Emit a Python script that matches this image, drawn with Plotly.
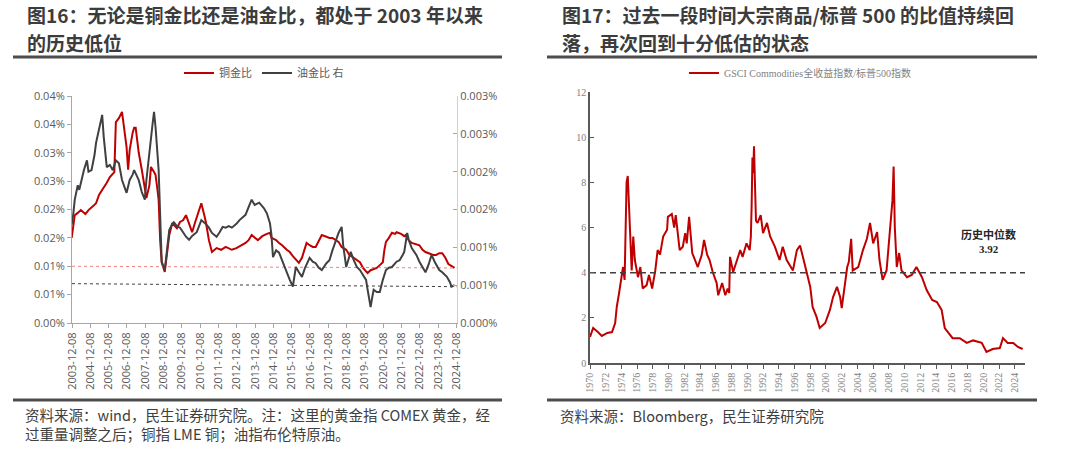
import plotly.graph_objects as go

# ---------------- Left chart: copper/gold & oil/gold ----------------
cg_dates = ["2003-12","2004-01","2004-02","2004-04","2004-06","2004-09","2004-11","2005-02","2005-04","2005-06",
            "2005-09","2005-11","2006-01","2006-04","2006-05","2006-07","2006-09","2006-10","2006-12","2007-01",
            "2007-02","2007-04","2007-05","2007-06","2007-08","2007-10","2007-12","2008-01","2008-03","2008-04",
            "2008-06","2008-07","2008-08","2008-09","2008-10","2008-11","2009-01","2009-02","2009-04","2009-06",
            "2009-09","2009-11","2010-01","2010-03","2010-05","2010-07","2010-09","2010-11","2011-01","2011-03",
            "2011-04","2011-06","2011-08","2011-11","2012-02","2012-05","2012-09","2012-12","2013-03","2013-06",
            "2013-08","2013-10","2014-02","2014-05","2014-08","2014-10","2014-11","2015-02","2015-04","2015-06",
            "2015-09","2015-11","2016-01","2016-03","2016-05","2016-07","2016-10","2016-12","2017-02","2017-04",
            "2017-06","2017-08","2017-11","2018-01","2018-03","2018-05","2018-07","2018-09","2018-12","2019-02",
            "2019-04","2019-07","2019-09","2019-11","2020-02","2020-04","2020-08","2020-10","2020-12","2021-01",
            "2021-02","2021-04","2021-06","2021-08","2021-09","2021-12","2022-02","2022-03","2022-05","2022-07",
            "2022-09","2022-12","2023-02","2023-04","2023-07","2023-09","2023-11","2024-01","2024-03","2024-05",
            "2024-07","2024-09","2024-11"]
cg_vals = [0.0150,0.0173,0.0190,0.0194,0.0199,0.0192,0.0199,0.0206,0.0211,0.0226,
           0.0238,0.0247,0.0257,0.0266,0.0354,0.0361,0.0372,0.0349,0.0310,0.0270,
           0.0305,0.0335,0.0344,0.0344,0.0300,0.0270,0.0240,0.0220,0.0243,0.0275,
           0.0266,0.0261,0.0240,0.0217,0.0146,0.0107,0.0090,0.0115,0.0155,0.0176,
           0.0167,0.0178,0.0181,0.0190,0.0173,0.0160,0.0178,0.0196,0.0211,0.0190,
           0.0178,0.0146,0.0125,0.0132,0.0129,0.0134,0.0129,0.0132,0.0137,0.0141,
           0.0146,0.0155,0.0146,0.0153,0.0157,0.0159,0.0150,0.0146,0.0141,0.0137,
           0.0129,0.0125,0.0118,0.0111,0.0106,0.0115,0.0141,0.0137,0.0134,0.0134,
           0.0146,0.0155,0.0152,0.0150,0.0150,0.0146,0.0143,0.0134,0.0129,0.0120,
           0.0116,0.0111,0.0107,0.0097,0.0088,0.0093,0.0097,0.0102,0.0107,0.0129,
           0.0143,0.0150,0.0159,0.0157,0.0160,0.0157,0.0153,0.0155,0.0146,0.0141,
           0.0139,0.0137,0.0129,0.0125,0.0122,0.0120,0.0120,0.0123,0.0123,0.0115,
           0.0104,0.0100,0.0097]

og_dates = ["2003-12","2004-01","2004-02","2004-04","2004-05","2004-06","2004-08","2004-10","2004-11","2005-01",
            "2005-03","2005-04","2005-06","2005-08","2005-09","2005-11","2006-01","2006-03","2006-05","2006-07",
            "2006-09","2006-12","2007-02","2007-04","2007-05","2007-07","2007-08","2007-10","2007-12","2008-01",
            "2008-03","2008-05","2008-06","2008-07","2008-09","2008-10","2008-11","2009-01","2009-02","2009-04",
            "2009-06","2009-07","2009-09","2009-11","2010-01","2010-03","2010-05","2010-07","2010-10","2010-12",
            "2011-01","2011-04","2011-06","2011-08","2011-11","2012-01","2012-03","2012-05","2012-07","2012-09",
            "2012-12","2013-02","2013-04","2013-06","2013-08","2013-10","2013-12","2014-03","2014-06","2014-08",
            "2014-10","2014-11","2014-12","2015-02","2015-04","2015-07","2015-09","2015-11","2016-01","2016-02",
            "2016-03","2016-05","2016-07","2016-09","2016-12","2017-02","2017-04","2017-06","2017-08","2017-11",
            "2018-01","2018-03","2018-05","2018-07","2018-09","2018-10","2018-12","2019-02","2019-03","2019-05",
            "2019-07","2019-09","2019-10","2020-01","2020-02","2020-03","2020-04","2020-05","2020-06","2020-08",
            "2020-10","2020-12","2021-02","2021-04","2021-06","2021-09","2021-11","2022-01","2022-02","2022-04",
            "2022-05","2022-07","2022-10","2022-12","2023-02","2023-04","2023-06","2023-08","2023-10","2024-01",
            "2024-03","2024-06","2024-08","2024-09","2024-11"]
og_vals = [0.00130,0.00143,0.00163,0.00182,0.00176,0.00185,0.00202,0.00215,0.00200,0.00202,
           0.00222,0.00238,0.00259,0.00275,0.00246,0.00206,0.00209,0.00202,0.00215,0.00211,
           0.00189,0.00172,0.00189,0.00196,0.00202,0.00192,0.00189,0.00173,0.00163,0.00189,
           0.00229,0.00262,0.00279,0.00259,0.00202,0.00136,0.00081,0.00070,0.00090,0.00123,
           0.00131,0.00133,0.00128,0.00126,0.00120,0.00114,0.00110,0.00115,0.00120,0.00130,
           0.00136,0.00131,0.00126,0.00119,0.00114,0.00120,0.00127,0.00126,0.00128,0.00126,
           0.00131,0.00136,0.00140,0.00143,0.00153,0.00163,0.00156,0.00159,0.00152,0.00145,
           0.00132,0.00116,0.00087,0.00096,0.00093,0.00077,0.00066,0.00057,0.00048,0.00063,
           0.00074,0.00067,0.00061,0.00073,0.00086,0.00081,0.00079,0.00073,0.00070,0.00079,
           0.00083,0.00096,0.00107,0.00119,0.00127,0.00103,0.00074,0.00090,0.00094,0.00083,
           0.00074,0.00070,0.00067,0.00057,0.00044,0.00030,0.00021,0.00033,0.00044,0.00041,
           0.00041,0.00057,0.00070,0.00073,0.00074,0.00081,0.00083,0.00090,0.00094,0.00119,
           0.00110,0.00099,0.00090,0.00081,0.00073,0.00067,0.00077,0.00090,0.00081,0.00070,
           0.00067,0.00061,0.00054,0.00048,0.00050]

ref_dates = ["2003-12-08", "2024-12-08"]
cg_ref_vals = [0.0100, 0.0097]
og_ref_vals = [0.00052, 0.00048]

left_x_ticks = ["%d-12-08" % y for y in range(2003, 2025)]
left_y_ticks = [0, 0.005, 0.010, 0.015, 0.020, 0.025, 0.030, 0.035, 0.040]
left_y_text = ["0.00%", "0.01%", "0.01%", "0.02%", "0.02%", "0.03%", "0.03%", "0.04%", "0.04%"]
right_y_ticks = [0, 0.0005, 0.0010, 0.0015, 0.0020, 0.0025, 0.0030]
right_y_text = ["0.000%", "0.001%", "0.001%", "0.002%", "0.002%", "0.003%", "0.003%"]

# ---------------- Right chart: GSCI / S&P500 ----------------
gsci_years = [1970.0,1970.4,1971.0,1971.5,1972.2,1972.8,1973.2,1973.4,1973.7,1973.9,
              1974.2,1974.4,1974.5,1974.65,1974.8,1974.95,1975.1,1975.3,1975.5,1975.7,
              1976.1,1976.4,1976.7,1977.2,1977.5,1977.9,1978.3,1978.6,1978.9,1979.3,
              1979.8,1979.9,1980.4,1980.7,1980.9,1981.2,1981.4,1981.8,1982.1,1982.3,
              1982.6,1983.0,1983.3,1983.7,1984.2,1984.5,1984.9,1985.2,1985.6,1986.1,
              1986.3,1986.8,1987.2,1987.5,1987.7,1987.8,1988.2,1988.7,1989.1,1989.4,
              1989.9,1990.3,1990.45,1990.55,1990.65,1990.75,1990.85,1990.95,1991.1,1991.3,
              1991.7,1992.0,1992.5,1992.9,1993.5,1994.1,1994.5,1995.0,1995.8,1996.3,
              1996.7,1997.1,1997.6,1998.0,1998.3,1998.8,1999.2,1999.9,2000.5,2000.9,
              2001.4,2001.8,2002.0,2002.7,2002.9,2003.2,2003.4,2004.1,2004.7,2005.2,
              2005.6,2006.0,2006.5,2006.8,2007.2,2007.7,2008.1,2008.45,2008.6,2008.75,
              2009.0,2009.3,2009.6,2010.3,2010.9,2011.5,2012.2,2012.8,2013.5,2014.1,
              2014.7,2015.1,2015.5,2016.1,2017.0,2017.9,2018.7,2019.8,2020.4,2021.2,
              2022.1,2022.5,2023.1,2023.8,2024.4,2025.0]
gsci_vals = [1.15,1.55,1.37,1.20,1.33,1.37,1.77,2.48,3.10,3.54,
             4.25,3.68,5.00,8.00,8.28,7.00,5.00,4.10,5.60,4.56,
             3.80,4.25,3.30,3.45,3.90,3.30,4.10,5.00,4.80,5.60,
             5.90,6.47,6.60,6.00,6.55,5.75,5.00,5.15,5.75,5.30,
             6.47,4.87,4.56,4.25,4.78,5.45,4.78,4.56,4.03,3.54,
             3.00,3.54,3.00,3.30,3.10,4.70,4.03,4.56,5.00,4.70,
             5.30,5.00,5.60,7.00,9.10,8.40,9.60,8.20,6.30,6.20,
             6.55,5.75,6.20,5.60,5.15,4.56,5.15,4.56,4.10,5.00,
             5.20,4.65,4.00,3.37,2.48,2.04,1.55,1.77,2.35,2.92,
             3.37,2.92,2.43,4.25,4.47,5.50,4.10,4.25,5.00,5.50,
             6.20,5.30,5.80,4.56,3.68,4.10,5.75,7.20,8.70,6.00,
             4.25,4.87,4.10,3.80,3.90,4.25,3.80,3.23,2.79,2.70,
             2.35,1.55,1.37,1.10,1.10,0.89,1.00,0.89,0.49,0.62,
             0.66,1.10,0.89,0.89,0.71,0.62]
median_x = [1970, 2025.3]
median_line = [4.0, 4.0]
median_label = "历史中位数<br>3.92"
year_ticks = list(range(1970, 2025, 2))

# ---------------- Figure ----------------
W, H = 1080, 453
def px(x): return x / W
def py(y): return 1 - y / H

fig = go.Figure()
fig.add_trace(go.Scatter(x=cg_dates, y=cg_vals, name="铜金比", mode="lines",
                         line=dict(color="#C00000", width=2), xaxis="x", yaxis="y", legend="legend"))
fig.add_trace(go.Scatter(x=og_dates, y=og_vals, name="油金比 右", mode="lines",
                         line=dict(color="#404040", width=2), xaxis="x", yaxis="y2", legend="legend"))
fig.add_trace(go.Scatter(x=ref_dates, y=cg_ref_vals, mode="lines", showlegend=False,
                         line=dict(color="#F08080", width=1, dash="dot"), xaxis="x", yaxis="y"))
fig.add_trace(go.Scatter(x=ref_dates, y=og_ref_vals, mode="lines", showlegend=False,
                         line=dict(color="#404040", width=1, dash="dot"), xaxis="x", yaxis="y2"))

fig.add_trace(go.Scatter(x=gsci_years, y=gsci_vals, name="GSCI Commodities全收益指数/标普500指数",
                         mode="lines", line=dict(color="#C00000", width=2),
                         xaxis="x2", yaxis="y3", legend="legend2"))
fig.add_trace(go.Scatter(x=median_x, y=median_line, mode="lines", showlegend=False,
                         line=dict(color="#404040", width=1.5, dash="6px,4px"),
                         xaxis="x2", yaxis="y3"))

left_font = dict(family="Open Sans, Noto Sans CJK SC", size=11, color="#595959")
serif_font = dict(family="Liberation Serif, Noto Sans CJK SC", size=10, color="#7F7F7F")

fig.update_layout(
    width=W, height=H, autosize=False,
    margin=dict(l=0, r=0, t=0, b=0, autoexpand=False),
    paper_bgcolor="white", plot_bgcolor="white",
    xaxis=dict(domain=[px(72), px(457)], anchor="y", type="date",
               range=["2003-12-08", "2024-12-20"],
               tickvals=left_x_ticks, ticktext=left_x_ticks, tickangle=-90,
               ticks="outside", ticklen=4, tickcolor="#A6A6A6",
               showline=True, linecolor="#A6A6A6", linewidth=1,
               showgrid=False, zeroline=False, tickfont=left_font),
    yaxis=dict(domain=[py(323), py(96)], anchor="x", range=[0, 0.04],
               tickvals=left_y_ticks, ticktext=left_y_text,
               ticks="outside", ticklen=4, tickcolor="#A6A6A6",
               showline=True, linecolor="#A6A6A6", linewidth=1,
               showgrid=False, zeroline=False, tickfont=left_font),
    yaxis2=dict(overlaying="y", anchor="x", side="right", range=[0, 0.003],
                tickvals=right_y_ticks, ticktext=right_y_text,
                ticks="inside", ticklen=4, tickcolor="#A6A6A6",
                showline=True, linecolor="#D0D0D0", linewidth=1,
                showgrid=False, zeroline=False, tickfont=left_font),
    xaxis2=dict(domain=[px(590), px(1025)], anchor="y3", range=[1970, 2025.3],
                tickvals=year_ticks, ticktext=[str(y) for y in year_ticks], tickangle=-90,
                ticks="outside", ticklen=4, tickcolor="#595959",
                showline=True, linecolor="#595959", linewidth=1.5,
                showgrid=False, zeroline=False, tickfont=serif_font),
    yaxis3=dict(domain=[py(363), py(92)], anchor="x2", range=[0, 12],
                tickvals=[0, 2, 4, 6, 8, 10, 12],
                ticks="inside", ticklen=4, tickcolor="#595959",
                showline=True, linecolor="#595959", linewidth=1.5,
                showgrid=False, zeroline=False, tickfont=serif_font),
    legend=dict(x=px(264), y=py(73), xanchor="center", yanchor="middle", orientation="h",
                font=dict(family="Noto Sans CJK SC", size=11, color="#595959"),
                bgcolor="rgba(0,0,0,0)"),
    legend2=dict(x=px(800), y=py(73), xanchor="center", yanchor="middle", orientation="h",
                 font=dict(family="Liberation Serif, Noto Sans CJK SC", size=10, color="#7F7F7F"),
                 bgcolor="rgba(0,0,0,0)"),
    showlegend=True,
)

title_font = dict(family="Noto Sans CJK SC", size=19, color="#3C3C3C")
src_font = dict(family="Noto Sans CJK SC", size=14.5, color="#404040")
annots = [
    (25, 14.5, "<b>图16：无论是铜金比还是油金比，都处于 2003 年以来</b>", title_font),
    (25, 42, "<b>的历史低位</b>", title_font),
    (560, 14.5, "<b>图17：过去一段时间大宗商品/标普 500 的比值持续回</b>", title_font),
    (560, 42, "<b>落，再次回到十分低估的状态</b>", title_font),
    (23, 424, "资料来源：wind，民生证券研究院。注：这里的黄金指 COMEX 黄金，经<br>过重量调整之后；铜指 LME 铜；油指布伦特原油。", src_font),
    (558, 415, "资料来源：Bloomberg，民生证券研究院", src_font),
]
for x, y, t, f in annots:
    fig.add_annotation(x=px(x), y=py(y), xref="paper", yref="paper", text=t, showarrow=False,
                       xanchor="left", yanchor="middle", align="left", font=f)
fig.add_annotation(x=px(988), y=py(242), xref="paper", yref="paper", text="<b>" + median_label + "</b>",
                   showarrow=False, xanchor="center", yanchor="middle", align="center",
                   font=dict(family="Liberation Serif, Noto Sans CJK SC", size=11, color="#262626"))

for x0, x1 in [(13, 502), (547, 1037)]:
    for y in (57, 400):
        fig.add_shape(type="line", xref="paper", yref="paper", x0=px(x0), x1=px(x1), y0=py(y), y1=py(y),
                      line=dict(color="#4D4D4D", width=3))

fig.write_html("out.html", config={"displayModeBar": False},
               post_script="document.body.style.margin='0';")
